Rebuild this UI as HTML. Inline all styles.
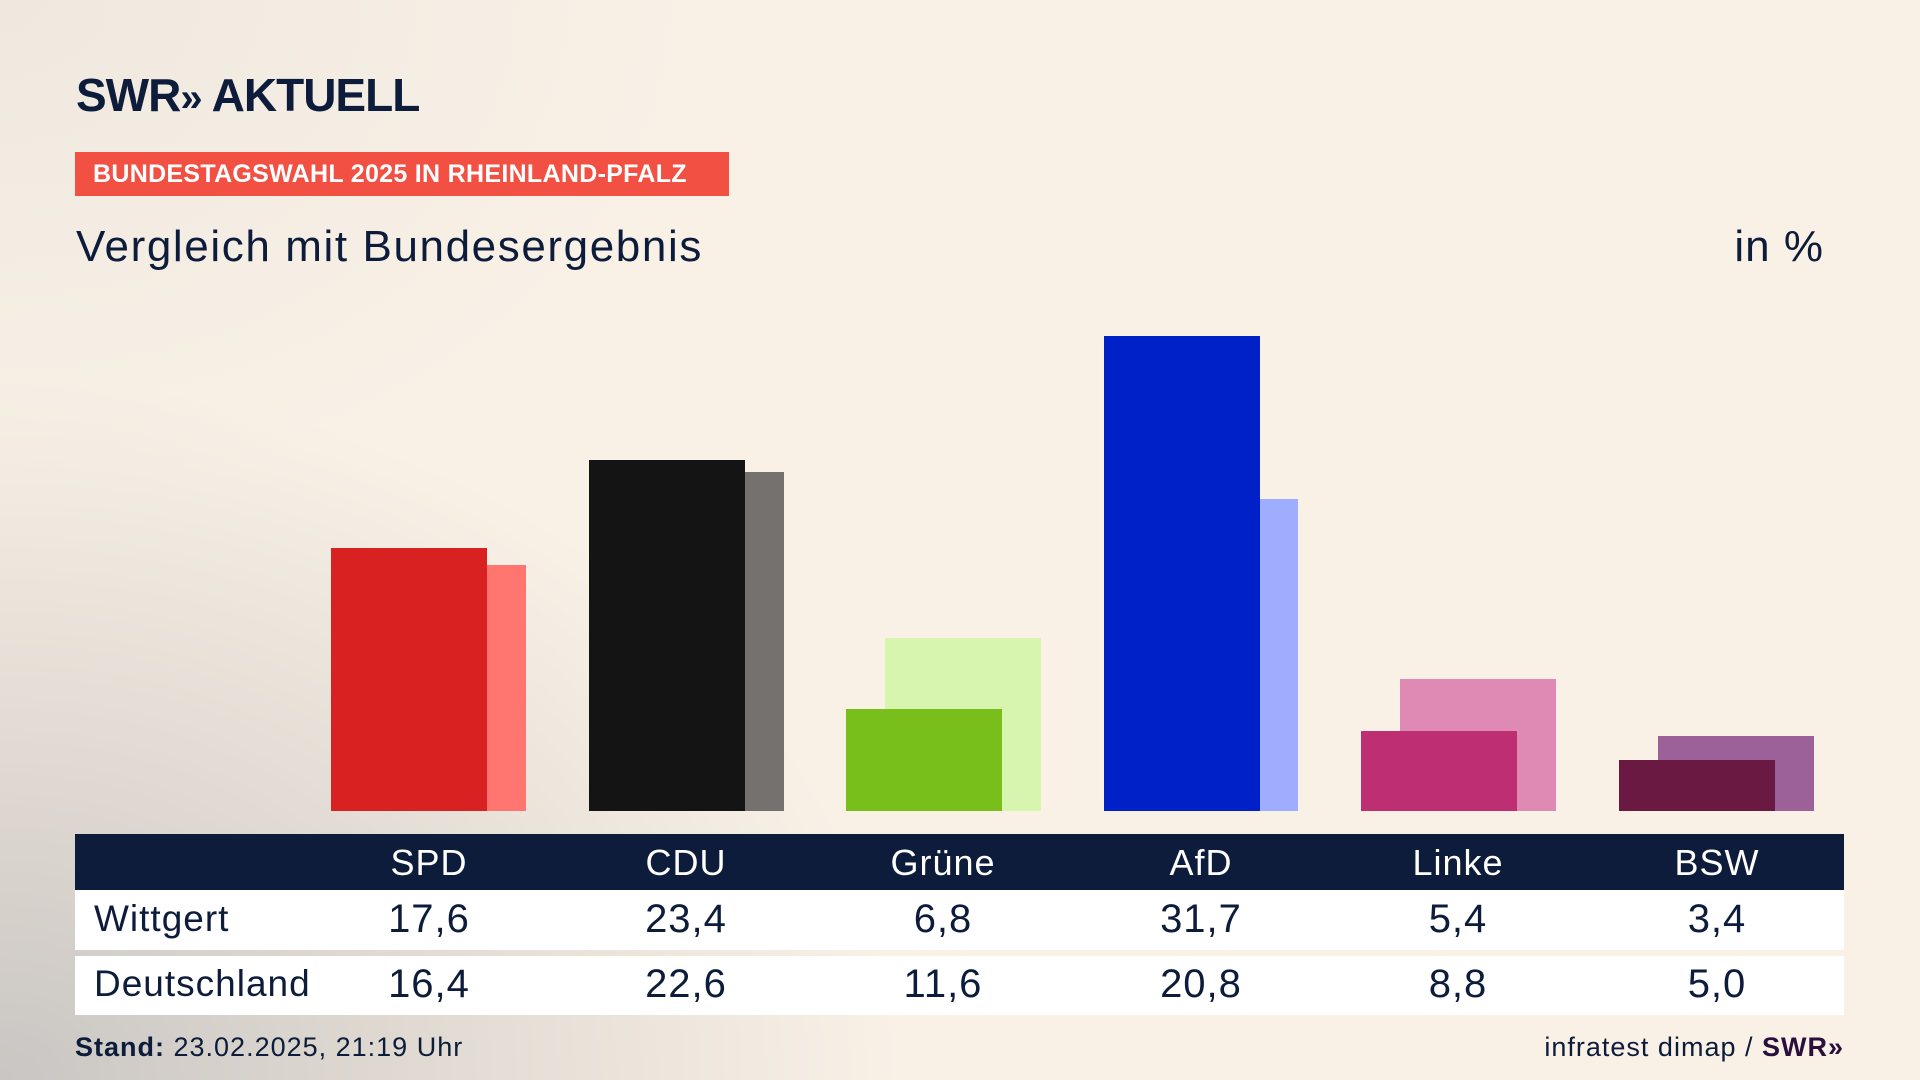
<!DOCTYPE html>
<html><head><meta charset="utf-8"><style>
*{margin:0;padding:0;box-sizing:border-box}
body{width:1920px;height:1080px;overflow:hidden;position:relative;font-family:"Liberation Sans",sans-serif;color:#0c1c3a;
background:radial-gradient(ellipse 900px 700px at 0px 1080px,#c9c6c3 0%,#ddd7d0 40%,rgba(248,240,229,0) 100%),radial-gradient(ellipse 700px 500px at 0px 0px,#efe8df 0%,rgba(248,240,229,0) 100%),#f9f1e6;}
.a{position:absolute}
.bar{position:absolute;width:156px}
.hd{position:absolute;top:834px;left:75px;width:1769px;height:56px;background:#0c1c3a}
.row{position:absolute;left:75px;width:1769px;background:#fff}
.c{position:absolute;width:200px;text-align:center;margin-left:-100px;letter-spacing:1px}
</style></head><body>
<div class="a" style="left:76px;top:68px;font-size:46px;font-weight:bold;letter-spacing:-1px;color:#0c1c3a">SWR<span style="font-size:40px">»</span> AKTUELL</div>
<div class="a" style="left:75px;top:152px;width:654px;height:44px;background:#f25042;color:#fff;font-weight:bold;font-size:25px;line-height:44px;padding-left:18px;letter-spacing:0.3px">BUNDESTAGSWAHL 2025 IN RHEINLAND-PFALZ</div>
<div class="a" style="left:76px;top:222px;font-size:44px;letter-spacing:1.6px">Vergleich mit Bundesergebnis</div>
<div class="a" style="right:96px;top:222px;font-size:44px;letter-spacing:1px">in %</div>

<div class="bar" style="left:370px;top:565px;height:246px;background:#ff7570"></div>
<div class="bar" style="left:331px;top:548px;height:263px;background:#d92121"></div>
<div class="bar" style="left:628px;top:472px;height:339px;background:#75716e"></div>
<div class="bar" style="left:589px;top:460px;height:351px;background:#141414"></div>
<div class="bar" style="left:885px;top:638px;height:173px;background:#d7f5ae"></div>
<div class="bar" style="left:846px;top:709px;height:102px;background:#79bf1c"></div>
<div class="bar" style="left:1142px;top:499px;height:312px;background:#9fadff"></div>
<div class="bar" style="left:1104px;top:336px;height:475px;background:#0020c8"></div>
<div class="bar" style="left:1400px;top:679px;height:132px;background:#df8ab5"></div>
<div class="bar" style="left:1361px;top:731px;height:80px;background:#bd2f72"></div>
<div class="bar" style="left:1658px;top:736px;height:75px;background:#9b6198"></div>
<div class="bar" style="left:1619px;top:760px;height:51px;background:#6a1a42"></div>

<div class="hd"></div>
<div class="row" style="top:890px;height:60px"></div>
<div class="row" style="top:956px;height:59px"></div>
<div style="font-size:36px;color:#fff">
<div class="c" style="left:429px;top:842px">SPD</div><div class="c" style="left:686px;top:842px">CDU</div><div class="c" style="left:943px;top:842px">Grüne</div><div class="c" style="left:1201px;top:842px">AfD</div><div class="c" style="left:1458px;top:842px">Linke</div><div class="c" style="left:1717px;top:842px">BSW</div>
</div>
<div style="font-size:40px">
<div class="a" style="left:94px;top:898px;font-size:37px;letter-spacing:1px">Wittgert</div>
<div class="c" style="left:429px;top:897px">17,6</div><div class="c" style="left:686px;top:897px">23,4</div><div class="c" style="left:943px;top:897px">6,8</div><div class="c" style="left:1201px;top:897px">31,7</div><div class="c" style="left:1458px;top:897px">5,4</div><div class="c" style="left:1717px;top:897px">3,4</div>
<div class="a" style="left:94px;top:963px;font-size:37px;letter-spacing:1px">Deutschland</div>
<div class="c" style="left:429px;top:962px">16,4</div><div class="c" style="left:686px;top:962px">22,6</div><div class="c" style="left:943px;top:962px">11,6</div><div class="c" style="left:1201px;top:962px">20,8</div><div class="c" style="left:1458px;top:962px">8,8</div><div class="c" style="left:1717px;top:962px">5,0</div>
</div>
<div class="a" style="left:75px;top:1032px;font-size:27px;letter-spacing:1px"><b>Stand:</b> 23.02.2025, 21:19 Uhr</div>
<div class="a" style="right:76px;top:1032px;font-size:27px;letter-spacing:1px">infratest dimap / <b style="color:#2a0f3c">SWR»</b></div>
</body></html>
